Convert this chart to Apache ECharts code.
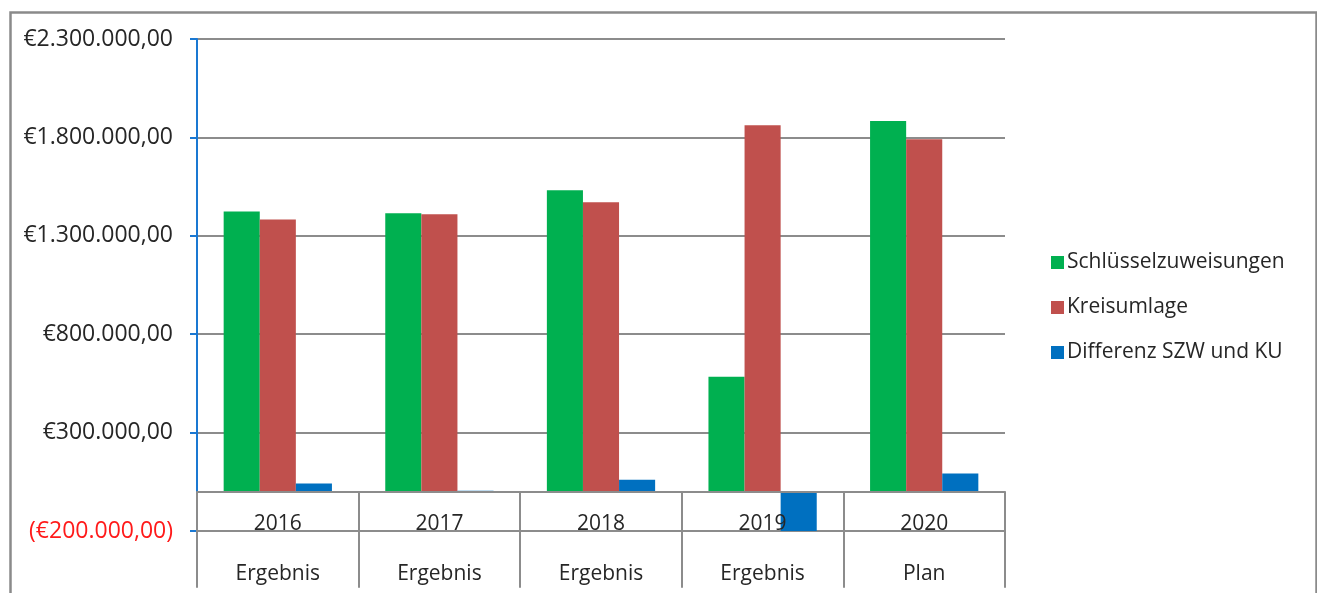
<!DOCTYPE html>
<html>
<head>
<meta charset="utf-8">
<script src="https://cdn.jsdelivr.net/npm/echarts@6/dist/echarts.min.js"></script>
<style>
html,body{margin:0;padding:0;background:#fff;}
#c{width:1317px;height:593px;}
</style>
</head>
<body>
<div id="c"></div>
<script>
const years = ['2016', '2017', '2018', '2019', '2020'];
const kinds = ['Ergebnis', 'Ergebnis', 'Ergebnis', 'Ergebnis', 'Plan'];
const seriesNames = ['Schlüsselzuweisungen', 'Kreisumlage', 'Differenz SZW und KU'];
const szw = [1424000, 1414000, 1531000, 584000, 1883000];
const ku = [1383000, 1409000, 1470000, 1862000, 1791000];
const diff = [41000, 5000, 61000, -1278000, 92000];
const yMin = -200000, yMax = 2300000, yStep = 500000;

function fmtEUR(v) {
  const a = Math.abs(v);
  const s = a.toFixed(0).replace(/\B(?=(\d{3})+(?!\d))/g, '.') + ',00';
  return v < 0 ? '(€' + s + ')' : '€' + s;
}

const font = 'Open Sans';
const chart = echarts.init(document.getElementById('c'));
chart.setOption({
  animation: false,
  textStyle: { fontFamily: font },
  graphic: [{
    type: 'rect', left: 8, top: 10, z: 100, silent: true,
    shape: { width: 1306, height: 600 },
    style: { fill: 'none', stroke: '#8a8a8a', lineWidth: 2.5 }
  }],
  grid: { left: 197, right: 312, top: 39, bottom: 62, containLabel: false, outerBoundsMode: 'none' },
  legend: {
    orient: 'vertical', left: 1046, top: 247,
    itemWidth: 13, itemHeight: 13, itemGap: 24, icon: 'rect',
    textStyle: { fontFamily: font, fontSize: 21, color: '#262626', padding: [0, 0, 0, -2] },
    data: seriesNames
  },
  xAxis: {
    type: 'category',
    z: 3,
    data: years.map((y, i) => y + '\n' + kinds[i]),
    axisLine: { onZero: true, lineStyle: { color: '#8c8c8c', width: 2 } },
    axisTick: { show: true, interval: 0, length: 96, lineStyle: { color: '#8c8c8c', width: 2 } },
    axisLabel: { interval: 0, margin: -32, fontSize: 21, color: '#262626', lineHeight: 50, fontFamily: font }
  },
  yAxis: {
    type: 'value', min: yMin, max: yMax, interval: yStep,
    axisLine: { show: true, lineStyle: { color: '#1a78d2', width: 2 } },
    axisTick: { show: true, length: 7, lineStyle: { color: '#1a78d2', width: 2 } },
    splitLine: { show: true, lineStyle: { color: '#8c8c8c', width: 2 } },
    axisLabel: {
      margin: 24, fontSize: 23, fontFamily: font,
      color: (v) => (Number(v) < 0 ? '#ff1a1a' : '#262626'),
      formatter: (v) => fmtEUR(v)
    }
  },
  series: [
    { name: seriesNames[0], type: 'bar', data: szw, barGap: '0%', barCategoryGap: '33%', clip: true, itemStyle: { color: '#00b050' } },
    { name: seriesNames[1], type: 'bar', data: ku, barGap: '0%', barCategoryGap: '33%', clip: true, itemStyle: { color: '#c0504d' } },
    { name: seriesNames[2], type: 'bar', data: diff, barGap: '0%', barCategoryGap: '33%', clip: true, itemStyle: { color: '#0070c0' } }
  ]
});
</script>
</body>
</html>
